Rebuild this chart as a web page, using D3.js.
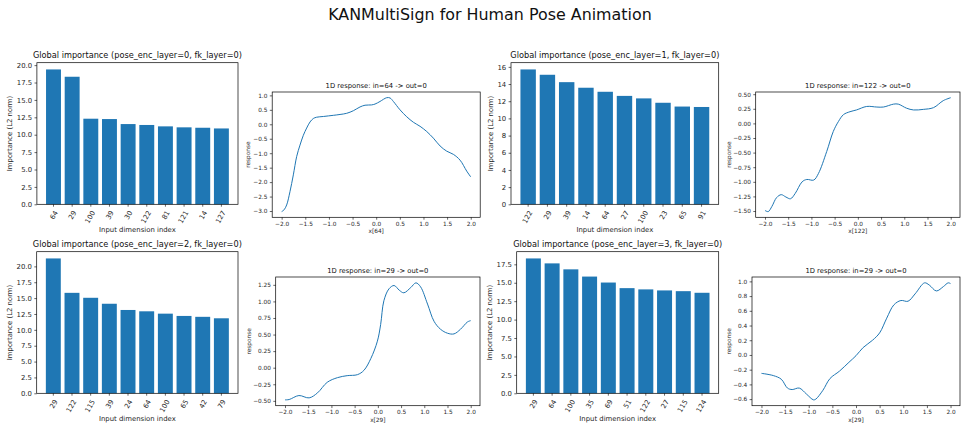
<!DOCTYPE html>
<html>
<head>
<meta charset="utf-8">
<script src="https://cdn.jsdelivr.net/npm/d3@7"></script>
<style>
  html, body { margin: 0; padding: 0; background: #fff; }
  svg { display: block; font-family: "DejaVu Sans", sans-serif; }
</style>
</head>
<body>
<div id="chart"></div>
<script>
const suptitle = "KANMultiSign for Human Pose Animation";

// global importance, one list per pose_enc_layer
const dims0 = ["64", "29", "100", "39", "30", "122", "81", "121", "14", "127"];
const imp0 = [19.38, 18.33, 12.3, 12.25, 11.53, 11.4, 11.2, 11.06, 11.0, 10.9];
const dims1 = ["122", "29", "39", "14", "64", "27", "100", "23", "65", "91"];
const imp1 = [15.7, 15.08, 14.22, 13.57, 13.1, 12.62, 12.33, 11.82, 11.38, 11.33];
const dims2 = ["29", "122", "115", "39", "24", "64", "100", "65", "42", "79"];
const imp2 = [21.25, 15.83, 15.05, 14.11, 13.13, 12.92, 12.55, 12.19, 12.05, 11.82];
const dims3 = ["29", "64", "100", "35", "69", "51", "122", "27", "115", "124"];
const imp3 = [18.3, 17.63, 16.82, 15.84, 15.03, 14.27, 14.1, 13.96, 13.86, 13.64];

// 1D responses
const respX0 = [-2.0, -1.95, -1.894, -1.824, -1.753, -1.683, -1.612, -1.541, -1.471, -1.4, -1.33, -1.26, -1.118, -0.907, -0.765, -0.624, -0.483, -0.342, -0.236, -0.1, -0.025, 0.081, 0.222, 0.293, 0.363, 0.504, 0.646, 0.787, 0.928, 1.069, 1.21, 1.351, 1.492, 1.633, 1.774, 1.915, 2.0];
const respY0 = [-3.02, -2.96, -2.79, -2.33, -1.75, -1.12, -0.72, -0.38, -0.13, 0.08, 0.2, 0.245, 0.27, 0.31, 0.34, 0.38, 0.47, 0.6, 0.66, 0.67, 0.7, 0.79, 0.92, 0.91, 0.79, 0.5, 0.26, 0.07, -0.07, -0.25, -0.48, -0.75, -0.93, -1.04, -1.24, -1.62, -1.82];
const respX1 = [-2.0, -1.93, -1.85, -1.75, -1.65, -1.55, -1.45, -1.35, -1.2, -1.1, -0.95, -0.85, -0.67, -0.53, -0.42, -0.31, -0.17, -0.03, 0.19, 0.41, 0.55, 0.77, 0.87, 1.05, 1.2, 1.41, 1.63, 1.84, 2.0];
const respY1 = [-1.49, -1.51, -1.42, -1.27, -1.22, -1.26, -1.29, -1.2, -1.0, -0.96, -0.97, -0.86, -0.48, -0.14, 0.03, 0.15, 0.2, 0.23, 0.29, 0.28, 0.28, 0.33, 0.33, 0.26, 0.23, 0.24, 0.27, 0.39, 0.44];
const respX2 = [-2.0, -1.91, -1.7, -1.48, -1.3, -1.09, -0.87, -0.66, -0.44, -0.3, -0.15, -0.01, 0.06, 0.13, 0.24, 0.35, 0.46, 0.56, 0.71, 0.82, 0.92, 1.07, 1.21, 1.35, 1.5, 1.64, 1.78, 1.93, 2.0];
const respY2 = [-0.485, -0.48, -0.42, -0.455, -0.38, -0.22, -0.15, -0.12, -0.105, -0.04, 0.14, 0.4, 0.65, 1.01, 1.19, 1.24, 1.17, 1.13, 1.21, 1.28, 1.22, 0.96, 0.7, 0.58, 0.52, 0.51, 0.58, 0.69, 0.71];
const respX3 = [-2.0, -1.75, -1.58, -1.45, -1.35, -1.2, -1.05, -0.9, -0.85, -0.7, -0.55, -0.35, -0.15, 0.0, 0.15, 0.35, 0.5, 0.65, 0.8, 0.95, 1.1, 1.25, 1.45, 1.55, 1.7, 1.85, 1.95, 2.0];
const respY3 = [-0.25, -0.28, -0.33, -0.45, -0.47, -0.45, -0.53, -0.61, -0.6, -0.48, -0.32, -0.22, -0.1, -0.01, 0.1, 0.2, 0.3, 0.5, 0.68, 0.74, 0.73, 0.83, 0.98, 0.95, 0.87, 0.93, 0.98, 0.97];

// tick values
const barTicks2p5 = [0, 2.5, 5, 7.5, 10, 12.5, 15, 17.5, 20];
const barTicks2 = [0, 2, 4, 6, 8, 10, 12, 14, 16];
const barTicks3 = [0, 2.5, 5, 7.5, 10, 12.5, 15, 17.5];
const respXTicks = [-2, -1.5, -1, -0.5, 0, 0.5, 1, 1.5, 2];
const respYTicks0 = [-3, -2.5, -2, -1.5, -1, -0.5, 0, 0.5, 1];
const respYTicks1 = [-1.5, -1.25, -1, -0.75, -0.5, -0.25, 0, 0.25, 0.5];
const respYTicks2 = [-0.5, -0.25, 0, 0.25, 0.5, 0.75, 1, 1.25];
const respYTicks3 = [-0.6, -0.4, -0.2, 0, 0.2, 0.4, 0.6, 0.8, 1.0];

const W = 967, H = 430;
const BLUE = "#1f77b4";
const TXT = "#262626";

const svg = d3.select("#chart").append("svg").attr("width", W).attr("height", H);

svg.append("text")
  .attr("x", 490).attr("y", 19.5)
  .attr("text-anchor", "middle")
  .style("font-size", "15.9px")
  .attr("fill", "#111")
  .text(suptitle);

function styleAxis(g, size) {
  g.select(".domain").remove();
  g.selectAll(".tick line").attr("stroke", "#000").attr("stroke-width", 0.6);
  g.selectAll(".tick text").attr("fill", TXT).style("font-size", size + "px").style("font-family", "DejaVu Sans");
}

function frame(g, box) {
  g.append("rect")
    .attr("x", box.x0).attr("y", box.y0)
    .attr("width", box.x1 - box.x0).attr("height", box.y1 - box.y0)
    .attr("fill", "none").attr("stroke", "#000").attr("stroke-width", 0.7);
}

function drawBars(p) {
  const g = svg.append("g");
  const x = d3.scaleBand().domain(p.cats).range([p.x0, p.x1]).paddingInner(0.2).paddingOuter(0.49);
  const y = d3.scaleLinear().domain([0, d3.max(p.vals) * 1.05]).range([p.y1, p.y0]);

  g.selectAll("rect.bar")
    .data(p.vals)
    .join("rect")
    .attr("class", "bar")
    .attr("x", (d, i) => x(p.cats[i]))
    .attr("y", (d) => y(d))
    .attr("width", x.bandwidth())
    .attr("height", (d) => y(0) - y(d))
    .attr("fill", BLUE);

  const ya = g.append("g").attr("transform", `translate(${p.x0},0)`)
    .call(d3.axisLeft(y).tickValues(p.yTicks).tickFormat(d3.format(p.fmt)).tickSize(2.4).tickPadding(2.4));
  styleAxis(ya, 6.9);

  const xa = g.append("g").attr("transform", `translate(0,${p.y1})`)
    .call(d3.axisBottom(x).tickSize(2.4).tickPadding(2.4));
  styleAxis(xa, 6.9);
  xa.selectAll(".tick text")
    .attr("text-anchor", "end")
    .attr("y", 0).attr("dy", "0.35em")
    .attr("transform", "translate(2.5,7) rotate(-60)");

  frame(g, p);

  g.append("text")
    .attr("x", (p.x0 + p.x1) / 2).attr("y", p.y0 - 4.5)
    .attr("text-anchor", "middle").style("font-size", "8.2px").attr("fill", "#111")
    .text(p.title);
  g.append("text")
    .attr("x", (p.x0 + p.x1) / 2).attr("y", p.y1 + 28)
    .attr("text-anchor", "middle").style("font-size", "6.9px").attr("fill", TXT)
    .text("Input dimension index");
  g.append("text")
    .attr("transform", `translate(${p.ylabX},${(p.y0 + p.y1) / 2}) rotate(-90)`)
    .attr("text-anchor", "middle").attr("dy", "0.35em").style("font-size", "6.9px").attr("fill", TXT)
    .text("Importance (L2 norm)");
}

function drawResponse(p) {
  const g = svg.append("g");
  const pts = p.xs.map((v, i) => [v, p.ys[i]]);
  const [lo, hi] = d3.extent(p.ys);
  const pad = (hi - lo) * 0.05;
  const x = d3.scaleLinear().domain([-2.2, 2.2]).range([p.x0, p.x1]);
  const y = d3.scaleLinear().domain([lo - pad, hi + pad]).range([p.y1, p.y0]);

  g.append("path")
    .datum(pts)
    .attr("fill", "none")
    .attr("stroke", BLUE)
    .attr("stroke-width", 1.0)
    .attr("d", d3.line().x((d) => x(d[0])).y((d) => y(d[1])).curve(d3.curveCatmullRom.alpha(0.5)));

  const ya = g.append("g").attr("transform", `translate(${p.x0},0)`)
    .call(d3.axisLeft(y).tickValues(p.yTicks).tickFormat(d3.format(p.fmt)).tickSize(2.4).tickPadding(2.4));
  styleAxis(ya, 5.8);
  const xa = g.append("g").attr("transform", `translate(0,${p.y1})`)
    .call(d3.axisBottom(x).tickValues(respXTicks).tickFormat(d3.format(".1f")).tickSize(2.4).tickPadding(2.2));
  styleAxis(xa, 5.8);

  frame(g, p);

  g.append("text")
    .attr("x", (p.x0 + p.x1) / 2).attr("y", p.y0 - 3.6)
    .attr("text-anchor", "middle").style("font-size", "6.8px").attr("fill", "#111")
    .text(`1D response: in=${p.dim} -> out=0`);
  g.append("text")
    .attr("x", (p.x0 + p.x1) / 2).attr("y", p.y1 + 16)
    .attr("text-anchor", "middle").style("font-size", "5.8px").attr("fill", TXT)
    .text(`x[${p.dim}]`);
  g.append("text")
    .attr("transform", `translate(${p.ylabX},${(p.y0 + p.y1) / 2}) rotate(-90)`)
    .attr("text-anchor", "middle").attr("dy", "0.35em").style("font-size", "5.8px").attr("fill", TXT)
    .text("response");
}

drawBars({ cats: dims0, vals: imp0, yTicks: barTicks2p5, fmt: ".1f",
  title: "Global importance (pose_enc_layer=0, fk_layer=0)",
  x0: 36.9, x1: 238, y0: 62.7, y1: 204.3, ylabX: 10 });
drawBars({ cats: dims1, vals: imp1, yTicks: barTicks2, fmt: "d",
  title: "Global importance (pose_enc_layer=1, fk_layer=0)",
  x0: 511, x1: 718.7, y0: 62.7, y1: 204.3, ylabX: 491 });
drawBars({ cats: dims2, vals: imp2, yTicks: barTicks2p5, fmt: ".1f",
  title: "Global importance (pose_enc_layer=2, fk_layer=0)",
  x0: 36.7, x1: 238, y0: 251.7, y1: 393.3, ylabX: 10 });
drawBars({ cats: dims3, vals: imp3, yTicks: barTicks3, fmt: ".1f",
  title: "Global importance (pose_enc_layer=3, fk_layer=0)",
  x0: 516.7, x1: 718.7, y0: 251.7, y1: 393.3, ylabX: 490 });

drawResponse({ dim: 64, xs: respX0, ys: respY0, yTicks: respYTicks0, fmt: ".1f",
  x0: 272.2, x1: 480.2, y0: 92, y1: 217.3, ylabX: 248 });
drawResponse({ dim: 122, xs: respX1, ys: respY1, yTicks: respYTicks1, fmt: ".2f",
  x0: 755.7, x1: 960, y0: 92, y1: 217.3, ylabX: 729 });
drawResponse({ dim: 29, xs: respX2, ys: respY2, yTicks: respYTicks2, fmt: ".2f",
  x0: 275.7, x1: 480, y0: 277, y1: 405.7, ylabX: 249 });
drawResponse({ dim: 29, xs: respX3, ys: respY3, yTicks: respYTicks3, fmt: ".1f",
  x0: 752, x1: 960, y0: 277, y1: 405.7, ylabX: 729 });
</script>
</body>
</html>
